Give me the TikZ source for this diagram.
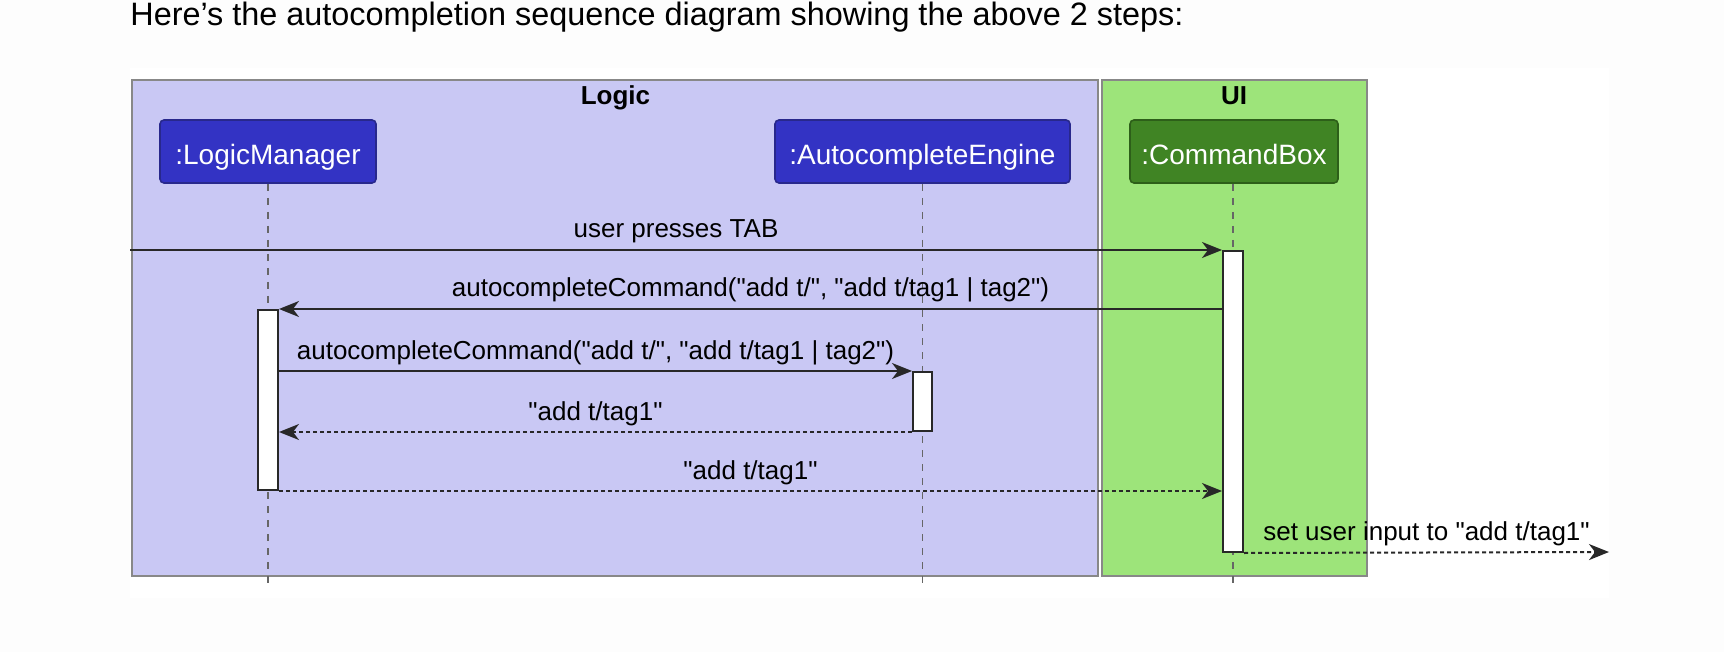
\documentclass[tikz,border=0pt]{standalone}
\usepackage{fontspec}
\setmainfont{Liberation Sans}[Ligatures=TeXOff]
\usetikzlibrary{arrows.meta}
\definecolor{pagebg}{RGB}{253,253,253}
\definecolor{logicbg}{RGB}{201,200,244}
\definecolor{uibg}{RGB}{157,228,122}
\definecolor{partblue}{RGB}{51,51,196}
\definecolor{partblueb}{RGB}{40,40,140}
\definecolor{partgreen}{RGB}{64,132,36}
\definecolor{partgreenb}{RGB}{45,95,25}
\definecolor{framegray}{RGB}{136,136,136}
\definecolor{linedark}{RGB}{40,40,40}
\tikzset{
  grp/.style={draw=framegray, line width=0.8pt},
  grptitle/.style={font=\fontsize{13}{15}\selectfont\bfseries, anchor=base, inner sep=0pt},
  part/.style={draw=#1, rounded corners=2pt, line width=0.8pt},
  parttext/.style={font=\fontsize{14}{16}\selectfont, text=white, anchor=base, inner sep=0pt},
  lifeline/.style={draw=gray!80!black, line width=0.6pt, dash pattern=on 3.5pt off 3.5pt},
  actbox/.style={draw=linedark, fill=white, line width=1pt},
  callarr/.style={draw=linedark, line width=1pt, -{Stealth[length=10pt,width=8pt,inset=3pt]}},
  retarr/.style={draw=linedark, line width=1pt, dash pattern=on 2pt off 1.5pt, -{Stealth[length=10pt,width=8pt,inset=3pt]}},
  msg/.style={font=\fontsize{13}{15}\selectfont, anchor=base, inner sep=0pt, yshift=6pt}
}
\begin{document}
\begin{tikzpicture}[x=0.5pt,y=-0.5pt]
\useasboundingbox (0,0) rectangle (1724,652);
\fill[pagebg] (0,0) rectangle (1724,652);
\fill[white] (130,68) rectangle (1609,598);
% heading
\node[font=\fontsize{16.2}{19}\selectfont, anchor=base west, inner sep=0pt] (heading) at (130,26) {Here’s the autocompletion sequence diagram showing the above 2 steps:};
% groups
\path[grp, fill=logicbg] (132,80) rectangle (1098,576);
\path[grp, fill=uibg] (1102,80) rectangle (1367,576);
\node[grptitle] (logictitle) at (615.5,105) {Logic};
\node[grptitle] (uititle) at (1234,105) {UI};
% participants
\path[part=partblueb, fill=partblue] (160,120) rectangle (376,183);
\path[part=partblueb, fill=partblue] (775,120) rectangle (1070,183);
\path[part=partgreenb, fill=partgreen] (1130,120) rectangle (1338,183);
\node[parttext] (lm) at (268,165) {:LogicManager};
\node[parttext] (ae) at (922.5,165) {:AutocompleteEngine};
\node[parttext] (cb) at (1234,165) {:CommandBox};
% lifelines
\coordinate (lmtop) at (268,184);
\coordinate (lmbot) at (268,590);
\coordinate (aetop) at (922.5,184);
\coordinate (aebot) at (922.5,590);
\coordinate (cbtop) at (1233,184);
\coordinate (cbbot) at (1233,590);
\draw[lifeline] (lmtop) -- (lmbot);
\draw[lifeline] (aetop) -- (aebot);
\draw[lifeline] (cbtop) -- (cbbot);
% activations
\node[actbox, inner sep=0pt, minimum width=10pt, minimum height=150.5pt] (cbact) at (1233,401.5) {};
\node[actbox, inner sep=0pt, minimum width=10pt, minimum height=90pt] (lmact) at (268,400) {};
\node[actbox, inner sep=0pt, minimum width=9.5pt, minimum height=29.5pt] (aeact) at (922.5,401.5) {};
% messages
\coordinate (m1s) at (130,250);
\draw[callarr] (m1s) -- node[msg] (l1) {user presses TAB} (m1s -| cbact.west);
\draw[callarr] (cbact.west |- lmact.north) -- node[msg] (l2) {autocompleteCommand("add t/", "add t/tag1 | tag2")} (lmact.north east);
\draw[callarr] (lmact.east |- aeact.north) -- node[msg] (l3) {autocompleteCommand("add t/", "add t/tag1 | tag2")} (aeact.north west);
\draw[retarr] (aeact.south west) -- node[msg] (l4) {"add t/tag1"} (lmact.east |- aeact.south);
\draw[retarr] (lmact.south east) -- node[msg] (l5) {"add t/tag1"} (cbact.west |- lmact.south);
\coordinate (m6e) at (1609,552);
\draw[retarr] (cbact.south east) -- node[msg] (l6) {set user input to "add t/tag1"} (m6e);
\end{tikzpicture}
\end{document}
